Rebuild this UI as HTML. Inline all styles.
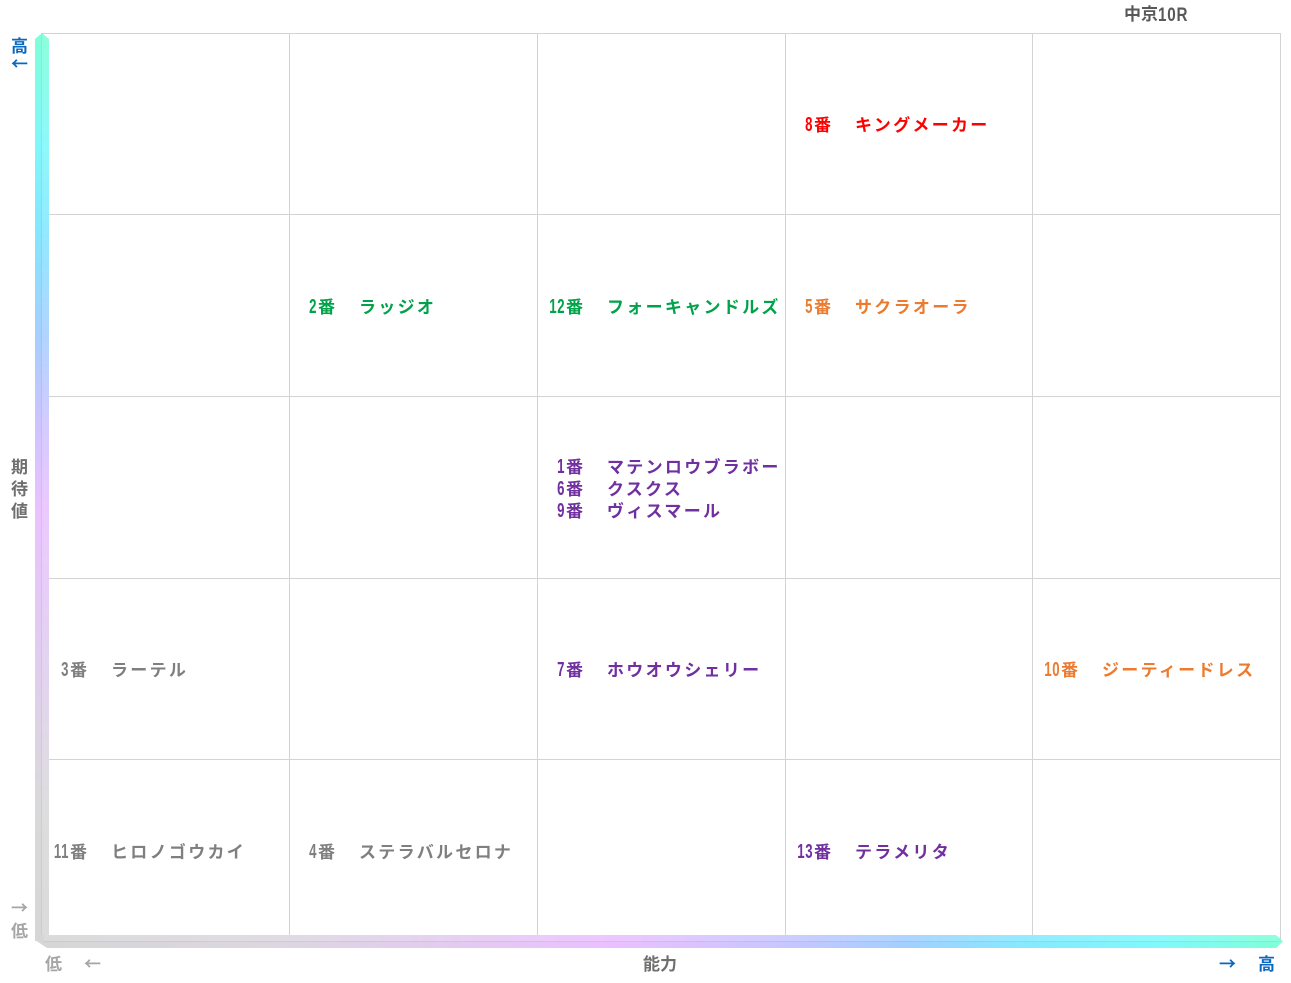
<!DOCTYPE html>
<html lang="ja">
<head>
<meta charset="utf-8">
<style>
  html,body{margin:0;padding:0;background:#fff;}
  body{width:1291px;height:983px;position:relative;overflow:hidden;
       font-family:"Liberation Sans","Noto Sans CJK JP",sans-serif;font-weight:bold;}
  svg{position:absolute;left:0;top:0;}
  .blk{position:absolute;}
  .ln{height:22px;line-height:22px;white-space:nowrap;display:flex;align-items:center;}
  .n{display:inline-block;width:28px;text-align:right;flex:none;position:relative;top:2px;}
  .n span{display:inline-block;font-family:"Liberation Sans",sans-serif;font-size:20px;letter-spacing:1px;
          transform:scaleX(.66);transform-origin:100% 50%;}
  .b{display:inline-block;width:41px;flex:none;font-family:"Noto Sans CJK JP",sans-serif;font-size:17px;padding-left:1px;}
  .nm{display:inline-block;font-family:"Noto Sans CJK JP",sans-serif;font-size:17px;letter-spacing:2.3px;}
  .red{color:#ff0000}
  .grn{color:#00a24a}
  .org{color:#ec7b2f}
  .pur{color:#7030a0}
  .gry{color:#7f7f7f}
  .lab{position:absolute;font-family:"Noto Sans CJK JP",sans-serif;font-size:17px;line-height:22px;}
  .blue{color:#0a68bf}
  .lg{color:#a6a6a6}
  .dg{color:#6f6f6f}
</style>
</head>
<body>
<svg width="1291" height="983" viewBox="0 0 1291 983">
  <defs>
    <linearGradient id="gv" x1="0" y1="33" x2="0" y2="948" gradientUnits="userSpaceOnUse">
      <stop offset="0" stop-color="#7fffd8"/>
      <stop offset="0.12" stop-color="#7ff8fa"/>
      <stop offset="0.22" stop-color="#84e6ff"/>
      <stop offset="0.33" stop-color="#a6cfff"/>
      <stop offset="0.43" stop-color="#cfc4ff"/>
      <stop offset="0.52" stop-color="#e9c2ff"/>
      <stop offset="0.68" stop-color="#e0cdf0"/>
      <stop offset="0.85" stop-color="#d9d9d9"/>
      <stop offset="1" stop-color="#d6d6d6"/>
    </linearGradient>
    <linearGradient id="gh" x1="35" y1="0" x2="1283" y2="0" gradientUnits="userSpaceOnUse">
      <stop offset="0" stop-color="#d6d6d6"/>
      <stop offset="0.2" stop-color="#dcd6e0"/>
      <stop offset="0.46" stop-color="#eac0ff"/>
      <stop offset="0.6" stop-color="#c8c6ff"/>
      <stop offset="0.7" stop-color="#a2d0ff"/>
      <stop offset="0.8" stop-color="#84ebff"/>
      <stop offset="0.9" stop-color="#7ff9fb"/>
      <stop offset="1" stop-color="#7fffd8"/>
    </linearGradient>
  </defs>
  <!-- grid -->
  <g stroke="#d3d3d3" stroke-width="1" fill="none">
    <line x1="41" y1="33.5" x2="1280" y2="33.5"/>
    <line x1="49" y1="214.5" x2="1280" y2="214.5"/>
    <line x1="49" y1="396.5" x2="1280" y2="396.5"/>
    <line x1="49" y1="578.5" x2="1280" y2="578.5"/>
    <line x1="49" y1="759.5" x2="1280" y2="759.5"/>
    <line x1="289.5" y1="33" x2="289.5" y2="941"/>
    <line x1="537.5" y1="33" x2="537.5" y2="941"/>
    <line x1="785.5" y1="33" x2="785.5" y2="941"/>
    <line x1="1032.5" y1="33" x2="1032.5" y2="941"/>
    <line x1="1280.5" y1="33" x2="1280.5" y2="941"/>
  </g>
  <!-- vertical bar -->
  <polygon points="35,39 42,33 49,39 49,941 35,941" fill="url(#gv)"/>
  <line x1="41.5" y1="36" x2="41.5" y2="940" stroke="#000" stroke-opacity="0.05" stroke-width="1"/>
  <rect x="42" y="36" width="7" height="904" fill="#fff" fill-opacity="0.12"/>
  <!-- horizontal bar -->
  <polygon points="35,935 1276,935 1283,941.5 1276,948 47,948 35,940" fill="url(#gh)"/>
  <line x1="44" y1="941.5" x2="1278" y2="941.5" stroke="#000" stroke-opacity="0.05" stroke-width="1"/>
  <rect x="44" y="935" width="1234" height="6" fill="#fff" fill-opacity="0.12"/>
</svg>

<!-- title -->
<div class="lab" style="left:1124px;top:2px;color:#595959;white-space:nowrap;">中京<span style="display:inline-block;font-family:'Liberation Sans',sans-serif;font-size:19px;letter-spacing:1px;transform:scaleX(.8);transform-origin:0 50%;position:relative;top:1px;">10R</span></div>

<!-- y axis labels -->
<div class="lab blue" style="left:11px;top:34px;">高</div>
<div class="lab blue" style="left:11px;top:52px;">←</div>
<div class="lab dg" style="left:11px;top:455px;">期</div>
<div class="lab dg" style="left:11px;top:477px;">待</div>
<div class="lab dg" style="left:11px;top:499px;">値</div>
<div class="lab lg" style="left:11px;top:896px;">→</div>
<div class="lab lg" style="left:11px;top:919px;">低</div>

<!-- x axis labels -->
<div class="lab lg" style="left:45px;top:952px;">低</div>
<div class="lab lg" style="left:84px;top:952px;">←</div>
<div class="lab dg" style="left:643px;top:952px;">能力</div>
<div class="lab blue" style="left:1219px;top:952px;">→</div>
<div class="lab blue" style="left:1258px;top:952px;">高</div>

<!-- Row 0 -->
<div class="blk red" style="left:785px;top:113px;">
  <div class="ln"><span class="n"><span>8</span></span><span class="b">番</span><span class="nm">キングメーカー</span></div>
</div>

<!-- Row 1 -->
<div class="blk grn" style="left:289px;top:295px;">
  <div class="ln"><span class="n"><span>2</span></span><span class="b">番</span><span class="nm">ラッジオ</span></div>
</div>
<div class="blk grn" style="left:537px;top:295px;">
  <div class="ln"><span class="n"><span>12</span></span><span class="b">番</span><span class="nm">フォーキャンドルズ</span></div>
</div>
<div class="blk org" style="left:785px;top:295px;">
  <div class="ln"><span class="n"><span>5</span></span><span class="b">番</span><span class="nm">サクラオーラ</span></div>
</div>

<!-- Row 2 -->
<div class="blk pur" style="left:537px;top:455px;">
  <div class="ln"><span class="n"><span>1</span></span><span class="b">番</span><span class="nm">マテンロウブラボー</span></div>
  <div class="ln"><span class="n"><span>6</span></span><span class="b">番</span><span class="nm">クスクス</span></div>
  <div class="ln"><span class="n"><span>9</span></span><span class="b">番</span><span class="nm">ヴィスマール</span></div>
</div>

<!-- Row 3 -->
<div class="blk gry" style="left:41px;top:658px;">
  <div class="ln"><span class="n"><span>3</span></span><span class="b">番</span><span class="nm">ラーテル</span></div>
</div>
<div class="blk pur" style="left:537px;top:658px;">
  <div class="ln"><span class="n"><span>7</span></span><span class="b">番</span><span class="nm">ホウオウシェリー</span></div>
</div>
<div class="blk org" style="left:1032px;top:658px;">
  <div class="ln"><span class="n"><span>10</span></span><span class="b">番</span><span class="nm">ジーティードレス</span></div>
</div>

<!-- Row 4 -->
<div class="blk gry" style="left:41px;top:840px;">
  <div class="ln"><span class="n"><span>11</span></span><span class="b">番</span><span class="nm">ヒロノゴウカイ</span></div>
</div>
<div class="blk gry" style="left:289px;top:840px;">
  <div class="ln"><span class="n"><span>4</span></span><span class="b">番</span><span class="nm">ステラバルセロナ</span></div>
</div>
<div class="blk pur" style="left:785px;top:840px;">
  <div class="ln"><span class="n"><span>13</span></span><span class="b">番</span><span class="nm">テラメリタ</span></div>
</div>
</body>
</html>
